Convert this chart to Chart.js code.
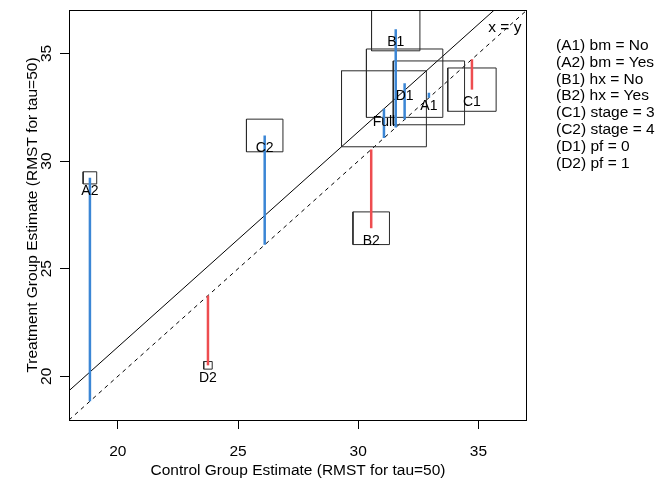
<!DOCTYPE html>
<html>
<head>
<meta charset="utf-8">
<script src="https://cdn.jsdelivr.net/npm/chart.js@4.4.0/dist/chart.umd.min.js"></script>
<style>
  body { margin: 0; background: #fff; }
  canvas { display: block; }
</style>
</head>
<body>
<canvas id="chart" width="668" height="479"></canvas>
<script>
// subgroup estimates (RMST, tau = 50)
const groups = ['Full', 'A1', 'A2', 'B1', 'B2', 'C1', 'C2', 'D1', 'D2'];
const controlEst = [31.07, 32.94, 18.84, 31.56, 30.54, 34.73, 26.11, 31.93, 23.75];
const treatEst = [32.43, 33.17, 29.22, 36.13, 26.88, 33.32, 31.19, 33.62, 20.51];
// relative subgroup size (Full = 100), box side is proportional to it
const relSize = [100, 84, 16, 57, 43, 57, 43, 90, 10];
const legendLabels = [
  '(A1) bm = No', '(A2) bm = Yes', '(B1) hx = No', '(B2) hx = Yes',
  '(C1) stage = 3', '(C2) stage = 4', '(D1) pf = 0', '(D2) pf = 1'
];
const axisTicks = [20, 25, 30, 35];
const axisMin = 17.97;
const axisMax = 37.02;

const BLUE = '#3b86d5';
const RED = '#ee4d50';
const FONT = '"Liberation Sans", Arial, Helvetica, sans-serif';
const boxScale = 3.53 / 100;

const datasets = [];

// x = y reference (dashed)
datasets.push({
  data: [{ x: axisMin, y: axisMin }, { x: axisMax, y: axisMax }],
  borderColor: '#000', borderWidth: 1, borderDash: [4, 4], order: 3
});
// overall effect line through the Full point
const shift = treatEst[0] - controlEst[0];
datasets.push({
  data: [{ x: axisMin, y: axisMin + shift }, { x: axisMax, y: axisMax + shift }],
  borderColor: '#000', borderWidth: 1, order: 3
});

groups.forEach((g, i) => {
  const cx = controlEst[i], cy = treatEst[i];
  const h = boxScale * relSize[i] / 2;
  datasets.push({
    data: [
      { x: cx - h, y: cy - h }, { x: cx + h, y: cy - h },
      { x: cx + h, y: cy + h }, { x: cx - h, y: cy + h },
      { x: cx - h, y: cy - h }
    ],
    borderColor: '#2a2a2a', borderWidth: 1, order: 2
  });
  datasets.push({
    data: [{ x: cx, y: cy }, { x: cx, y: cx }],
    borderColor: cy > cx ? BLUE : RED, borderWidth: 2.5, order: 1
  });
});

datasets.forEach(d => {
  d.showLine = true;
  d.pointRadius = 0;
  d.pointHoverRadius = 0;
  d.fill = false;
  d.tension = 0;
  d.clip = 0;
});

const textPlugin = {
  id: 'textPlugin',
  afterDraw(chart) {
    const ctx = chart.ctx;
    const area = chart.chartArea;
    const xs = chart.scales.x, ys = chart.scales.y;
    ctx.save();

    // box around plot
    ctx.strokeStyle = '#000';
    ctx.lineWidth = 1;
    ctx.strokeRect(Math.round(area.left) + 0.5, Math.round(area.top) + 0.5,
      Math.round(area.right - area.left) - 1, Math.round(area.bottom - area.top));

    ctx.fillStyle = '#000';
    ctx.font = '15.5px ' + FONT;
    ctx.textAlign = 'center';
    ctx.textBaseline = 'middle';

    // tick labels
    axisTicks.forEach(v => {
      ctx.fillText(String(v), xs.getPixelForValue(v), area.bottom + 32);
      ctx.save();
      ctx.translate(area.left - 22, ys.getPixelForValue(v));
      ctx.rotate(-Math.PI / 2);
      ctx.fillText(String(v), 0, 0);
      ctx.restore();
    });

    // axis titles
    ctx.fillText('Control Group Estimate (RMST for tau=50)', (area.left + area.right) / 2, area.bottom + 51);
    ctx.save();
    ctx.translate(area.left - 36, (area.top + area.bottom) / 2);
    ctx.rotate(-Math.PI / 2);
    ctx.fillText('Treatment Group Estimate (RMST for tau=50)', 0, 0);
    ctx.restore();

    // x = y label
    ctx.fillText('x = y', xs.getPixelForValue(36.1), ys.getPixelForValue(36.2));

    // subgroup labels, below each point
    ctx.font = '14px ' + FONT;
    groups.forEach((g, i) => {
      ctx.fillText(g, xs.getPixelForValue(controlEst[i]), ys.getPixelForValue(treatEst[i]) + 13);
    });

    // legend
    ctx.font = '15.5px ' + FONT;
    ctx.textAlign = 'left';
    legendLabels.forEach((t, i) => {
      ctx.fillText(t, area.right + 29, area.top + 35.5 + i * 16.9);
    });

    ctx.restore();
  }
};

const tickGrid = {
  display: true,
  drawOnChartArea: false,
  drawTicks: true,
  tickLength: 9,
  color: '#000',
  lineWidth: 1
};

new Chart(document.getElementById('chart'), {
  type: 'scatter',
  data: { datasets },
  options: {
    responsive: false,
    devicePixelRatio: 1,
    animation: false,
    layout: { padding: { top: 10, right: 141, left: 0, bottom: 0 } },
    plugins: {
      legend: { display: false },
      tooltip: { enabled: false }
    },
    scales: {
      x: {
        type: 'linear', min: axisMin, max: axisMax,
        ticks: { stepSize: 5, includeBounds: false, display: false },
        grid: tickGrid,
        border: { display: false },
        afterFit(s) { s.height = 59; }
      },
      y: {
        type: 'linear', min: axisMin, max: axisMax,
        ticks: { stepSize: 5, includeBounds: false, display: false },
        grid: tickGrid,
        border: { display: false },
        afterFit(s) { s.width = 69; }
      }
    }
  },
  plugins: [textPlugin]
});
</script>
</body>
</html>
